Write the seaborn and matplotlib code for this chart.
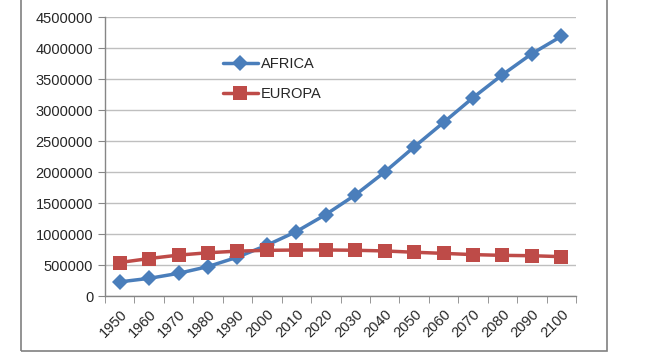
import numpy as np
import pandas as pd
import seaborn as sns
import matplotlib.pyplot as plt
from matplotlib.patches import Rectangle

# datos
years = ["1950", "1960", "1970", "1980", "1990", "2000", "2010", "2020",
         "2030", "2040", "2050", "2060", "2070", "2080", "2090", "2100"]
africa = [228000, 285000, 366000, 475000, 627000, 820000, 1040000, 1315000,
          1630000, 2000000, 2405000, 2800000, 3200000, 3570000, 3910000, 4190000]
europa = [540000, 605000, 660000, 698000, 724000, 737000, 742000, 743000,
          738000, 727000, 706000, 688000, 668000, 656000, 650000, 635000]

df = pd.DataFrame({
    "pos": list(range(len(years))) * 2,
    "valor": africa + europa,
    "serie": ["AFRICA"] * len(years) + ["EUROPA"] * len(years),
})

sns.set_style("white")
plt.rcParams['font.family'] = ['Liberation Sans', 'DejaVu Sans']

fig = plt.figure(figsize=(6.48, 3.56), dpi=100)
ax = fig.add_axes([0.162, 0.1685, 0.727, 0.7835])

colores = {"AFRICA": "#4a7ebb", "EUROPA": "#be4b48"}
sns.lineplot(data=df, x="pos", y="valor", hue="serie", style="serie",
             palette=colores, markers={"AFRICA": "D", "EUROPA": "s"},
             dashes=False, linewidth=2.5, markersize=8, markeredgewidth=0,
             ax=ax)

# tamaño de marcadores como en excel
for ln in ax.lines:
    if ln.get_marker() == "s":
        ln.set_markersize(9.5)
    elif ln.get_marker() == "D":
        ln.set_markersize(8)

ax.set_xlim(-0.5, len(years) - 0.5)
ax.set_ylim(0, 4500000)
ax.set_yticks(np.arange(0, 4500001, 500000))
ax.set_yticklabels([str(v) for v in range(0, 4500001, 500000)], fontsize=10.5)
ax.yaxis.grid(True, color="#bfbfbf", linewidth=1)
ax.set_axisbelow(True)

ax.set_xticks(range(len(years)))
ax.set_xticklabels(years, rotation=45, ha="right", rotation_mode="anchor", fontsize=10.5)
ax.set_xticks(np.arange(-0.5, len(years), 1), minor=True)
ax.tick_params(axis="x", which="major", length=0, pad=8)
ax.tick_params(axis="x", which="minor", length=5, color="#868686", direction="out", bottom=True)
ax.tick_params(axis="y", length=5, color="#868686", direction="out", left=True)
ax.set_xlabel("")
ax.set_ylabel("")

for s in ["top", "right"]:
    ax.spines[s].set_visible(False)
for s in ["left", "bottom"]:
    ax.spines[s].set_color("#868686")
    ax.spines[s].set_linewidth(1)

leg = ax.legend(loc="upper left", bbox_to_anchor=(0.222, 0.905), frameon=False,
                fontsize=10.5, handlelength=2.4, labelspacing=1.1, handletextpad=0.2)

# marco del grafico
fig.patches.append(Rectangle((21 / 648, 5 / 356), 586 / 648, 360 / 356,
                             transform=fig.transFigure, fill=False,
                             edgecolor="#808080", linewidth=1.2))

fig.savefig("out.png", dpi=100)
